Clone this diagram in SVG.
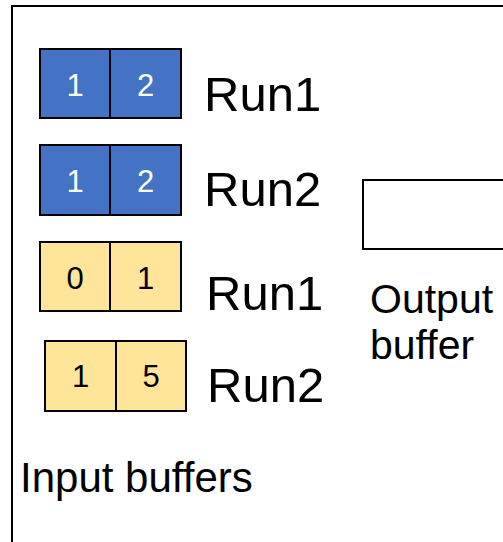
<svg xmlns="http://www.w3.org/2000/svg" width="503" height="542" viewBox="0 0 503 542">
<style>
.t{font-family:"Liberation Sans",Arial,sans-serif;fill:#000}
.blue{fill:#4472c4;stroke:#000;stroke-width:2}
.yel{fill:#ffe599;stroke:#000;stroke-width:2}
.d{font-family:"Liberation Sans",Arial,sans-serif;font-size:31px;text-anchor:middle}
.run{font-size:49px}
</style>
<rect x="12" y="6" width="500" height="550" fill="#fff" stroke="#000" stroke-width="2"/>
<g id="blue1">
<rect class="blue" x="40" y="49" width="70" height="69"/>
<rect class="blue" x="110" y="49" width="71" height="69"/>
<text class="d" x="75" y="96" fill="#fff">1</text>
<text class="d" x="145.5" y="96" fill="#fff">2</text>
<text class="t run" x="204" y="111">Run1</text>
</g>
<g id="blue2">
<rect class="blue" x="40" y="145" width="70" height="70"/>
<rect class="blue" x="110" y="145" width="71" height="70"/>
<text class="d" x="75" y="192" fill="#fff">1</text>
<text class="d" x="145.5" y="192" fill="#fff">2</text>
<text class="t run" x="204" y="206">Run2</text>
</g>
<g id="yellow1">
<rect class="yel" x="40" y="242" width="70" height="69"/>
<rect class="yel" x="110" y="242" width="71" height="69"/>
<text class="d" x="75" y="289">0</text>
<text class="d" x="145.5" y="289">1</text>
<text class="t run" x="206" y="310">Run1</text>
</g>
<g id="yellow2">
<rect class="yel" x="45" y="341" width="71" height="70"/>
<rect class="yel" x="116" y="341" width="70" height="70"/>
<text class="d" x="80.5" y="387">1</text>
<text class="d" x="151" y="387">5</text>
<text class="t run" x="207" y="402">Run2</text>
</g>
<g id="output">
<rect x="363" y="180" width="160" height="69" fill="#fff" stroke="#000" stroke-width="2"/>
<text class="t" x="370" y="313" font-size="41">Output</text>
<text class="t" x="370" y="359" font-size="41">buffer</text>
</g>
<g id="input-label">
<text class="t" x="20" y="492" font-size="42">Input buffers</text>
</g>
<g id="connectors"/>
</svg>
